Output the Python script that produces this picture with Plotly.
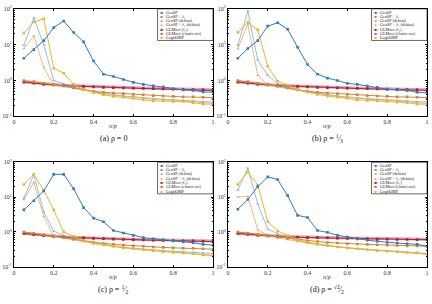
import plotly.graph_objects as go

x = [0.05, 0.1, 0.15, 0.2, 0.25, 0.3, 0.35, 0.4, 0.45, 0.5,
     0.55, 0.6, 0.65, 0.7, 0.75, 0.8, 0.85, 0.9, 0.95, 1.0]

series_names = ["GenSP", "GenSP + ℓ₁", "GenSP (debias)", "GenSP + ℓ₁ (debias)",
                "GLMnet (ℓ₁)", "GLMnet (elastic net)", "LogitOMP"]

# panel (a) rho = 0
gensp_a = [4.2, 7.3, 13, 30, 46, 22, 12, 3.5, 1.5, 1.3, 1.07, 0.89, 0.78, 0.71, 0.67, 0.59, 0.55, 0.53, 0.48, 0.47]
gensp_l1_a = [1.0, 0.93, 0.84, 0.77, 0.7, 0.62, 0.56, 0.5, 0.47, 0.45, 0.43, 0.41, 0.4, 0.38, 0.37, 0.36, 0.35, 0.35, 0.34, 0.33]
gensp_deb_a = [9.6, 56, 10, 1.0, 0.81, 0.66, 0.56, 0.49, 0.44, 0.4, 0.37, 0.35, 0.33, 0.31, 0.3, 0.29, 0.28, 0.27, 0.26, 0.25]
gensp_l1_deb_a = [7.8, 17.6, 2.3, 0.75, 0.68, 0.6, 0.53, 0.47, 0.43, 0.39, 0.36, 0.34, 0.32, 0.3, 0.29, 0.28, 0.27, 0.26, 0.24, 0.23]
glm_l1_a = [0.9, 0.84, 0.78, 0.75, 0.72, 0.7, 0.68, 0.66, 0.64, 0.63, 0.62, 0.61, 0.6, 0.59, 0.58, 0.57, 0.56, 0.55, 0.54, 0.53]
glm_en_a = [0.92, 0.86, 0.8, 0.77, 0.74, 0.72, 0.7, 0.68, 0.66, 0.65, 0.64, 0.63, 0.62, 0.61, 0.6, 0.59, 0.58, 0.57, 0.56, 0.55]
logit_a = [21, 43, 53, 2.2, 1.6, 0.78, 0.55, 0.46, 0.4, 0.36, 0.34, 0.32, 0.29, 0.27, 0.27, 0.26, 0.26, 0.24, 0.22, 0.22]

# panel (b) rho = 1/3
gensp_b = [4.2, 7.8, 13, 33, 41, 27, 8.5, 2.8, 1.5, 1.17, 1.0, 0.83, 0.78, 0.7, 0.65, 0.57, 0.55, 0.53, 0.47, 0.45]
gensp_l1_b = [1.0, 0.93, 0.84, 0.77, 0.7, 0.62, 0.56, 0.5, 0.47, 0.45, 0.43, 0.41, 0.4, 0.38, 0.37, 0.36, 0.35, 0.35, 0.34, 0.33]
gensp_deb_b = [9.6, 87, 3.7, 1.4, 0.81, 0.66, 0.56, 0.49, 0.44, 0.4, 0.37, 0.35, 0.33, 0.31, 0.3, 0.29, 0.28, 0.27, 0.26, 0.25]
gensp_l1_deb_b = [7.8, 37, 1.4, 0.75, 0.66, 0.6, 0.53, 0.47, 0.43, 0.39, 0.36, 0.34, 0.32, 0.3, 0.29, 0.28, 0.27, 0.26, 0.24, 0.23]
glm_l1_b = [0.9, 0.84, 0.78, 0.75, 0.72, 0.7, 0.68, 0.66, 0.64, 0.63, 0.62, 0.61, 0.6, 0.59, 0.58, 0.57, 0.56, 0.55, 0.54, 0.53]
glm_en_b = [0.92, 0.86, 0.8, 0.77, 0.74, 0.72, 0.7, 0.68, 0.66, 0.65, 0.64, 0.63, 0.62, 0.61, 0.6, 0.59, 0.58, 0.57, 0.56, 0.55]
logit_b = [22, 42, 26, 2.5, 0.95, 0.75, 0.56, 0.47, 0.41, 0.37, 0.34, 0.32, 0.29, 0.28, 0.27, 0.26, 0.25, 0.24, 0.22, 0.22]

# panel (c) rho = 1/2
gensp_c = [4.3, 7.9, 15, 45, 45, 17.5, 5.0, 2.5, 1.97, 1.1, 0.93, 0.8, 0.69, 0.64, 0.6, 0.55, 0.52, 0.49, 0.44, 0.42]
gensp_l1_c = [1.0, 0.92, 0.84, 0.76, 0.69, 0.62, 0.56, 0.5, 0.47, 0.44, 0.42, 0.4, 0.39, 0.37, 0.36, 0.35, 0.34, 0.34, 0.33, 0.32]
gensp_deb_c = [9.4, 44, 3.8, 1.05, 0.8, 0.66, 0.55, 0.48, 0.43, 0.39, 0.36, 0.34, 0.32, 0.3, 0.29, 0.28, 0.27, 0.26, 0.25, 0.24]
gensp_l1_deb_c = [8.5, 26, 2.8, 0.75, 0.66, 0.59, 0.52, 0.46, 0.42, 0.38, 0.35, 0.33, 0.31, 0.29, 0.27, 0.26, 0.25, 0.24, 0.22, 0.21]
glm_l1_c = [0.9, 0.84, 0.78, 0.74, 0.71, 0.69, 0.67, 0.65, 0.64, 0.62, 0.61, 0.6, 0.59, 0.58, 0.57, 0.56, 0.55, 0.55, 0.54, 0.53]
glm_en_c = [0.92, 0.86, 0.8, 0.76, 0.73, 0.71, 0.69, 0.67, 0.66, 0.64, 0.63, 0.62, 0.61, 0.6, 0.59, 0.58, 0.57, 0.57, 0.56, 0.55]
logit_c = [23, 45, 15.5, 4.3, 1.0, 0.75, 0.57, 0.47, 0.43, 0.39, 0.35, 0.33, 0.31, 0.29, 0.27, 0.26, 0.25, 0.24, 0.22, 0.21]

# panel (d) rho = sqrt(2)/2
gensp_d = [4.5, 8.5, 20, 38, 32, 11, 3.0, 2.6, 1.1, 0.97, 0.8, 0.71, 0.63, 0.58, 0.54, 0.5, 0.48, 0.46, 0.44, 0.39]
gensp_l1_d = [1.0, 0.92, 0.84, 0.77, 0.71, 0.65, 0.6, 0.56, 0.53, 0.5, 0.48, 0.46, 0.45, 0.44, 0.43, 0.42, 0.41, 0.4, 0.4, 0.39]
gensp_deb_d = [16, 68, 6.4, 1.2, 0.9, 0.68, 0.57, 0.5, 0.45, 0.41, 0.37, 0.35, 0.33, 0.31, 0.3, 0.29, 0.28, 0.27, 0.26, 0.24]
gensp_l1_deb_d = [10, 10.5, 1.15, 0.8, 0.68, 0.6, 0.53, 0.48, 0.43, 0.4, 0.37, 0.35, 0.33, 0.31, 0.29, 0.28, 0.27, 0.26, 0.25, 0.23]
glm_l1_d = [0.9, 0.85, 0.8, 0.77, 0.74, 0.72, 0.7, 0.69, 0.68, 0.67, 0.66, 0.65, 0.64, 0.63, 0.62, 0.62, 0.61, 0.61, 0.6, 0.6]
glm_en_d = [0.92, 0.87, 0.82, 0.79, 0.76, 0.74, 0.72, 0.71, 0.7, 0.69, 0.68, 0.67, 0.66, 0.65, 0.64, 0.64, 0.63, 0.63, 0.62, 0.62]
logit_d = [23, 53, 22, 2.0, 1.07, 0.78, 0.6, 0.5, 0.45, 0.41, 0.37, 0.35, 0.33, 0.31, 0.29, 0.28, 0.27, 0.26, 0.25, 0.23]

panels = [
    [gensp_a, gensp_l1_a, gensp_deb_a, gensp_l1_deb_a, glm_l1_a, glm_en_a, logit_a],
    [gensp_b, gensp_l1_b, gensp_deb_b, gensp_l1_deb_b, glm_l1_b, glm_en_b, logit_b],
    [gensp_c, gensp_l1_c, gensp_deb_c, gensp_l1_deb_c, glm_l1_c, glm_en_c, logit_c],
    [gensp_d, gensp_l1_d, gensp_deb_d, gensp_l1_deb_d, glm_l1_d, glm_en_d, logit_d],
]
captions = ["(a) ρ = 0", "(b) ρ = <sup>1</sup>⁄<sub>3</sub>", "(c) ρ = <sup>1</sup>⁄<sub>2</sub>",
            "(d) ρ = <sup>√2</sup>⁄<sub>2</sub>"]

colors = ["#2F7DBF", "#D0862E", "#78AEDC", "#E3A95F", "#A8213B", "rgba(214,90,110,0.55)", "#EBB52E"]
legend_colors = ["#2F7DBF", "#D0862E", "#78AEDC", "#E3A95F", "#A8213B", "#D65A6E", "#EBB52E"]
symbols = ["square", "square", "triangle-up", "triangle-up", "square", "square", "square"]
widths = [1, 1, 0.8, 0.8, 1, 3, 1]
draw_order = [5, 4, 2, 3, 1, 6, 0]

SERIF = "Liberation Serif, DejaVu Serif, serif"
W, H = 432, 304
# axes pixel boxes: (left, right, top, bottom)
boxes = [(12, 213, 5, 115), (228, 429, 5, 115), (12, 213, 162, 269), (228, 429, 162, 269)]

fig = go.Figure()
layout = dict(width=W, height=H, margin=dict(l=0, r=0, t=0, b=0),
              paper_bgcolor="white", plot_bgcolor="white", showlegend=False,
              font=dict(family=SERIF, color="black"))
annotations = []
shapes = []
ticktxt = ["10<sup>-1</sup>", "10<sup>0</sup>", "10<sup>1</sup>", "10<sup>2</sup>"]
for p, (l, r, t, b) in enumerate(boxes):
    sfx = "" if p == 0 else str(p + 1)
    xa, ya = "x" + sfx, "y" + sfx
    xd = [l / W, r / W]
    yd = [1 - b / H, 1 - t / H]
    layout["xaxis" + sfx] = dict(domain=xd, range=[0, 1], anchor=ya, showgrid=False, zeroline=False,
                                 showline=True, linecolor="black", linewidth=0.8, mirror="ticks",
                                 ticks="inside", ticklen=2, tickwidth=0.6, tickcolor="black",
                                 tickvals=[0, 0.2, 0.4, 0.6, 0.8, 1], ticktext=["0", "0.2", "0.4", "0.6", "0.8", "1"],
                                 tickfont=dict(size=6, family=SERIF, color="#333"), ticklabelstandoff=0)
    layout["yaxis" + sfx] = dict(domain=yd, type="log", range=[-1, 2], anchor=xa, showgrid=False, zeroline=False,
                                 showline=True, linecolor="black", linewidth=0.8, mirror="ticks",
                                 ticks="inside", ticklen=2, tickwidth=0.6, tickcolor="black",
                                 tickvals=[0.1, 1, 10, 100], ticktext=ticktxt,
                                 tickfont=dict(size=6, family=SERIF, color="#333"),
                                 ticklabelstandoff=0,
                                 minor=dict(ticks="inside", ticklen=1, tickwidth=0.4, tickcolor="black",
                                            tickvals=[v * m for m in (0.1, 1, 10) for v in range(2, 10)]))
    data = panels[p]
    for k in draw_order:
        fig.add_trace(go.Scatter(x=x, y=data[k], mode="lines+markers", xaxis=xa, yaxis=ya,
                                 name=series_names[k],
                                 line=dict(color=colors[k], width=widths[k]),
                                 marker=dict(symbol=symbols[k], size=2.6 if widths[k] < 3 else 2,
                                             color=colors[k] if k != 5 else "#C8324D")))
    xc = (l + r) / 2 / W
    annotations.append(dict(x=xc, y=1 - (b + 10) / H, xref="paper", yref="paper", text="<i>n/p</i>",
                            showarrow=False, font=dict(size=6, family=SERIF, color="#333"),
                            xanchor="center", yanchor="middle"))
    annotations.append(dict(x=xc, y=1 - (b + 23) / H, xref="paper", yref="paper", text=captions[p],
                            showarrow=False, font=dict(size=8, family=SERIF, color="#111"),
                            xanchor="center", yanchor="middle"))
    # legend box (top-right, inside axes)
    lx0, lx1, ly0 = r - 56, r, t
    step = 4.4
    ly1 = ly0 + 7 * step + 1.5
    shapes.append(dict(type="rect", xref="paper", yref="paper", x0=lx0 / W, x1=lx1 / W,
                       y0=1 - ly1 / H, y1=1 - ly0 / H, line=dict(color="black", width=0.6),
                       fillcolor="white", layer="above"))
    for k in range(7):
        yc = ly0 + 1 + step * (k + 0.5)
        glyph = "■" if symbols[k] == "square" else "▲"
        annotations.append(dict(x=(lx0 + 4) / W, y=1 - yc / H, xref="paper", yref="paper",
                                text="-" + glyph + "-", showarrow=False, xanchor="center", yanchor="middle",
                                font=dict(size=4.2, family=SERIF, color=legend_colors[k]), borderpad=0))
        annotations.append(dict(x=(lx0 + 7.5) / W, y=1 - yc / H, xref="paper", yref="paper",
                                text=series_names[k], showarrow=False, xanchor="left", yanchor="middle",
                                font=dict(size=4.2, family=SERIF, color="#222"), borderpad=0))
layout["annotations"] = annotations
layout["shapes"] = shapes
fig.update_layout(**layout)
fig.write_html("out.html")
